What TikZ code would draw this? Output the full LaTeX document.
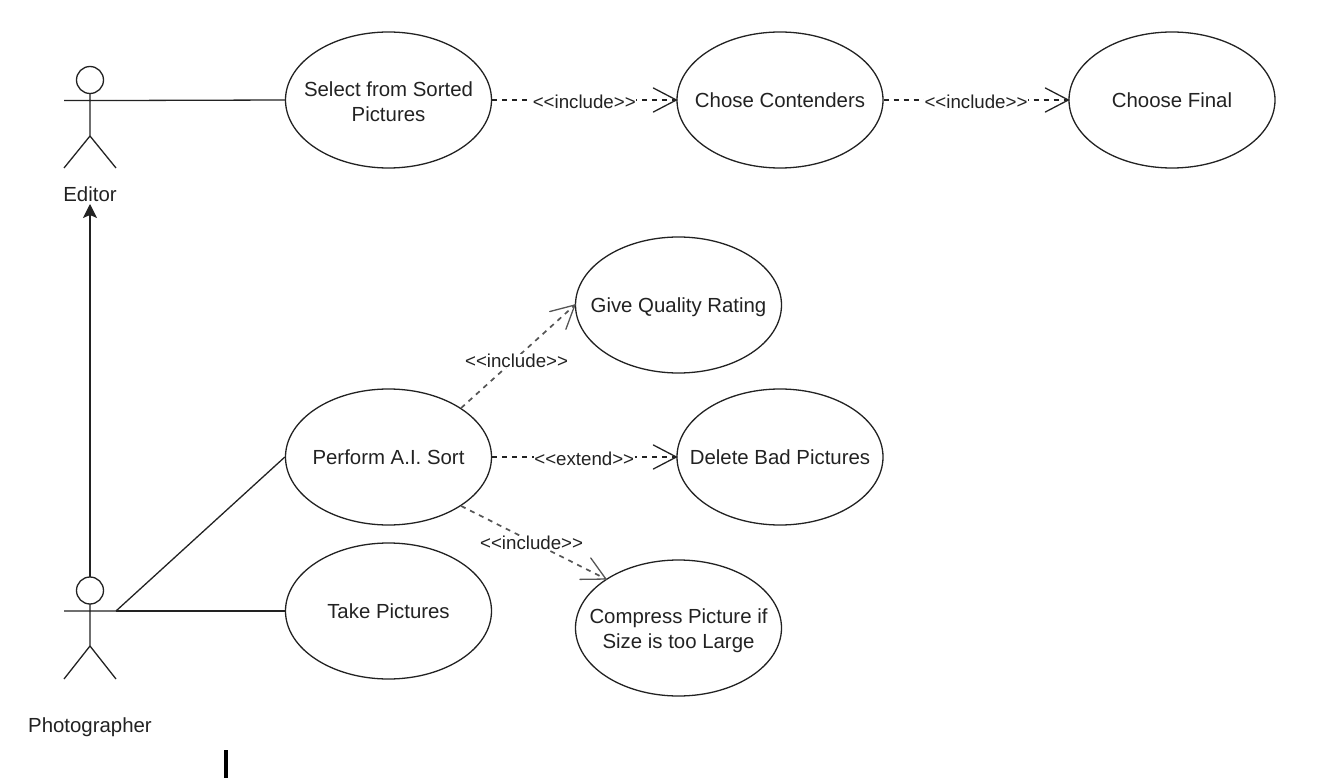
\documentclass[tikz,border=0pt]{standalone}
\usepackage{fontspec}
\setmainfont{Liberation Sans}
\usetikzlibrary{arrows.meta,shapes.geometric,calc}
\definecolor{ink}{HTML}{222222}
\definecolor{soft}{HTML}{555555}
\newcommand{\barbhead}[3][ink]{\draw[draw=#1,line width=1.3pt,line cap=round,line join=miter] ($(#3)!23pt!(#2)!12pt!90:(#2)$) -- (#3) -- ($(#3)!23pt!(#2)!12pt!-90:(#2)$);}
\begin{document}
\begin{tikzpicture}[x=1pt,y=-1pt,
 ell/.style={draw=ink,line width=1.3pt,ellipse,inner sep=0pt,minimum width=206pt,minimum height=136pt},
 etxt/.style={align=center,text=ink,inner sep=0pt,font=\fontsize{20.4}{25}\selectfont},
 lab/.style={font=\fontsize{20.4}{25}\selectfont,inner sep=0pt,text=ink},
 inc/.style={font=\fontsize{18.7}{22}\selectfont,inner sep=0.5pt,fill=white,text=ink,yshift=-1.5pt},
 ln/.style={draw=ink,line width=1.3pt},
 dep/.style={draw=ink,line width=1.2pt,dash pattern=on 5pt off 5pt},
 depsoft/.style={draw=soft,line width=1.7pt,dash pattern=on 5pt off 5pt}]
\useasboundingbox (0,0) rectangle (1342,778);
\node[ell,label={[etxt,yshift=-1.5pt]center:{Select from Sorted\\Pictures}}] (sel) at (388.5,100) {};
\node[ell,label={[etxt]center:Chose Contenders}] (con) at (780,100) {};
\node[ell,label={[etxt]center:Choose Final}] (fin) at (1172,100) {};
\node[ell,label={[etxt,yshift=-2.5pt]center:Give Quality Rating}] (qua) at (678.5,305) {};
\node[ell,label={[etxt]center:Perform A.I. Sort}] (ai) at (388.5,457) {};
\node[ell,label={[etxt]center:Delete Bad Pictures}] (del) at (780,457) {};
\node[ell,label={[etxt]center:Take Pictures}] (tak) at (388.5,611) {};
\node[ell,label={[etxt,yshift=-3pt]center:{Compress Picture if\\Size is too Large}}] (com) at (678.5,628) {};
% Editor actor
\draw[ln] (90,80) circle (13.5);
\draw[ln] (90,93.5)--(90,136) (64,100.5)--(116,100.5) (64,168)--(90,136)--(116,168);
\coordinate (edh) at (116,100.5);
\coordinate (edb) at (90,204);
\node[lab] (edl) at (90,194) {Editor};
% Photographer actor
\draw[ln] (90,590.5) circle (13.5);
\draw[ln] (90,604)--(90,646) (64,611)--(116,611) (64,679)--(90,646)--(116,679);
\coordinate (phh) at (116,611);
\coordinate (pht) at (90,577);
\node[lab] (phl) at (90,727) {Photographer};
\draw[ln,-{Stealth[length=14pt,width=14pt,inset=3pt]}] (pht)--(edb);
\draw[ln] (edh)--(sel.west);
\draw[ln] (phh)--(tak.west);
\draw[ln] (phh)--(ai.west);
\draw[dep] (sel.east)--(con.west) node[inc,midway] {{<}{<}include{>}{>}};
\barbhead{sel.east}{con.west}
\draw[dep] (con.east)--(fin.west) node[inc,midway] {{<}{<}include{>}{>}};
\barbhead{con.east}{fin.west}
\draw[dep] (ai.east)--(del.west) node[inc,midway] {{<}{<}extend{>}{>}};
\barbhead{ai.east}{del.west}
\draw[depsoft] (ai.34)--(qua.west) node[inc,pos=0.47,xshift=2pt] {{<}{<}include{>}{>}};
\barbhead[soft]{ai.34}{qua.west}
\draw[depsoft] (ai.-34)--(com.146) node[inc,pos=0.487] {{<}{<}include{>}{>}};
\barbhead[soft]{ai.-34}{com.146}
\fill[black] (224,750) rectangle (228,778);
\end{tikzpicture}
\end{document}
